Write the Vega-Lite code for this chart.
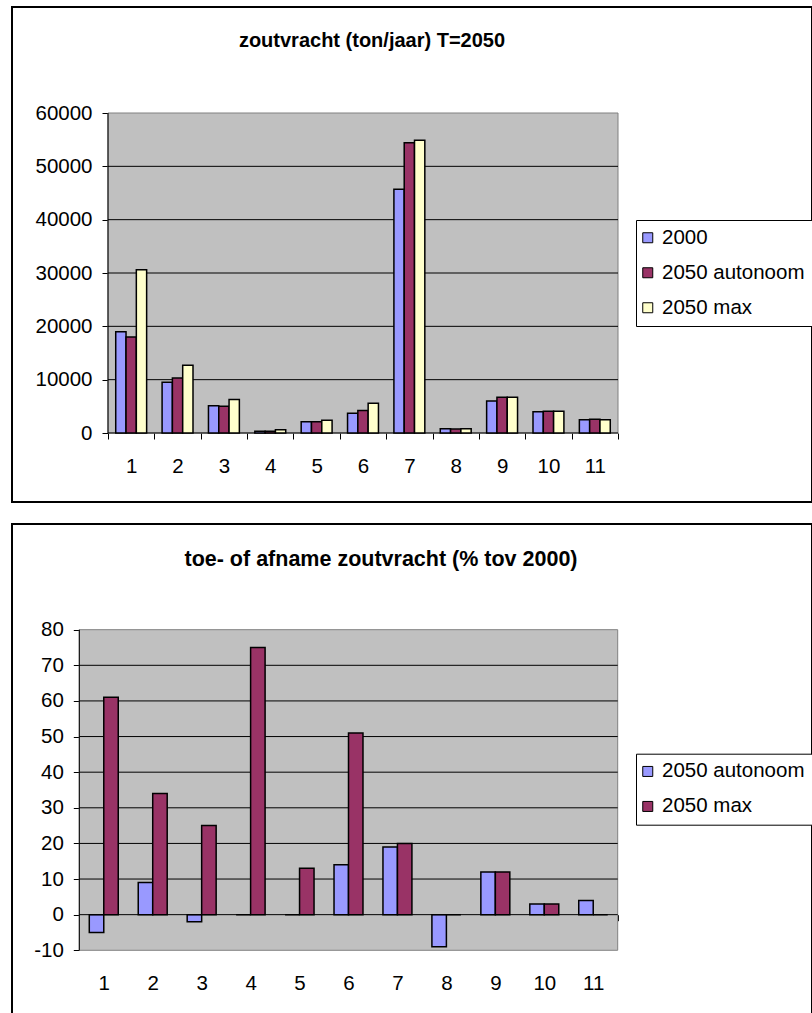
{
  "$schema": "https://vega.github.io/schema/vega-lite/v6.json",
  "background": "white",
  "padding": {"left": 11, "top": 6, "right": 0, "bottom": 0},
  "config": {
    "font": "Liberation Sans",
    "locale": {"number": {"decimal": ".", "thousands": ",", "grouping": [3], "currency": ["", ""], "minus": "-"}},
    "view": {"stroke": "black", "strokeWidth": 2, "fill": "white"},
    "concat": {"spacing": 20},
    "axis": {
      "labelFont": "Liberation Sans",
      "labelFontSize": 20.5,
      "labelColor": "black",
      "tickColor": "black",
      "tickWidth": 1,
      "domain": false,
      "grid": false
    },
    "legend": {
      "orient": "none",
      "legendX": 624,
      "fillColor": "white",
      "strokeColor": "black",
      "strokeWidth": 1,
      "padding": 7.5,
      "symbolType": "square",
      "symbolSize": 100,
      "symbolOffset": -6,
      "symbolStrokeColor": "black",
      "symbolStrokeWidth": 1,
      "labelFont": "Liberation Sans",
      "labelFontSize": 20.5,
      "labelColor": "black",
      "rowPadding": 14,
      "labelOffset": 4
    }
  },
  "datasets": {
    "vracht": [
      {"punt": 1, "reeks": "2000", "vracht": 19000},
      {"punt": 1, "reeks": "2050 autonoom", "vracht": 18000},
      {"punt": 1, "reeks": "2050 max", "vracht": 30600},
      {"punt": 2, "reeks": "2000", "vracht": 9500},
      {"punt": 2, "reeks": "2050 autonoom", "vracht": 10300},
      {"punt": 2, "reeks": "2050 max", "vracht": 12700},
      {"punt": 3, "reeks": "2000", "vracht": 5100},
      {"punt": 3, "reeks": "2050 autonoom", "vracht": 5000},
      {"punt": 3, "reeks": "2050 max", "vracht": 6300},
      {"punt": 4, "reeks": "2000", "vracht": 350},
      {"punt": 4, "reeks": "2050 autonoom", "vracht": 350},
      {"punt": 4, "reeks": "2050 max", "vracht": 600},
      {"punt": 5, "reeks": "2000", "vracht": 2100},
      {"punt": 5, "reeks": "2050 autonoom", "vracht": 2100},
      {"punt": 5, "reeks": "2050 max", "vracht": 2400},
      {"punt": 6, "reeks": "2000", "vracht": 3700},
      {"punt": 6, "reeks": "2050 autonoom", "vracht": 4200},
      {"punt": 6, "reeks": "2050 max", "vracht": 5600},
      {"punt": 7, "reeks": "2000", "vracht": 45700},
      {"punt": 7, "reeks": "2050 autonoom", "vracht": 54400},
      {"punt": 7, "reeks": "2050 max", "vracht": 54900},
      {"punt": 8, "reeks": "2000", "vracht": 800},
      {"punt": 8, "reeks": "2050 autonoom", "vracht": 730},
      {"punt": 8, "reeks": "2050 max", "vracht": 800},
      {"punt": 9, "reeks": "2000", "vracht": 6000},
      {"punt": 9, "reeks": "2050 autonoom", "vracht": 6700},
      {"punt": 9, "reeks": "2050 max", "vracht": 6700},
      {"punt": 10, "reeks": "2000", "vracht": 4000},
      {"punt": 10, "reeks": "2050 autonoom", "vracht": 4100},
      {"punt": 10, "reeks": "2050 max", "vracht": 4100},
      {"punt": 11, "reeks": "2000", "vracht": 2500},
      {"punt": 11, "reeks": "2050 autonoom", "vracht": 2600},
      {"punt": 11, "reeks": "2050 max", "vracht": 2500}
    ],
    "procent": [
      {"punt": 1, "reeks": "2050 autonoom", "procent": -5},
      {"punt": 1, "reeks": "2050 max", "procent": 61},
      {"punt": 2, "reeks": "2050 autonoom", "procent": 9},
      {"punt": 2, "reeks": "2050 max", "procent": 34},
      {"punt": 3, "reeks": "2050 autonoom", "procent": -2},
      {"punt": 3, "reeks": "2050 max", "procent": 25},
      {"punt": 4, "reeks": "2050 autonoom", "procent": 0},
      {"punt": 4, "reeks": "2050 max", "procent": 75},
      {"punt": 5, "reeks": "2050 autonoom", "procent": 0},
      {"punt": 5, "reeks": "2050 max", "procent": 13},
      {"punt": 6, "reeks": "2050 autonoom", "procent": 14},
      {"punt": 6, "reeks": "2050 max", "procent": 51},
      {"punt": 7, "reeks": "2050 autonoom", "procent": 19},
      {"punt": 7, "reeks": "2050 max", "procent": 20},
      {"punt": 8, "reeks": "2050 autonoom", "procent": -9},
      {"punt": 8, "reeks": "2050 max", "procent": 0},
      {"punt": 9, "reeks": "2050 autonoom", "procent": 12},
      {"punt": 9, "reeks": "2050 max", "procent": 12},
      {"punt": 10, "reeks": "2050 autonoom", "procent": 3},
      {"punt": 10, "reeks": "2050 max", "procent": 3},
      {"punt": 11, "reeks": "2050 autonoom", "procent": 4},
      {"punt": 11, "reeks": "2050 max", "procent": 0}
    ],
    "raster_vracht": [
      {"waarde": 10000}, {"waarde": 20000}, {"waarde": 30000},
      {"waarde": 40000}, {"waarde": 50000}
    ],
    "raster_procent": [
      {"waarde": 10}, {"waarde": 20}, {"waarde": 30}, {"waarde": 40},
      {"waarde": 50}, {"waarde": 60}, {"waarde": 70}
    ],
    "vlak": [{"gebied": "tekengebied"}]
  },
  "resolve": {
    "scale": {"color": "independent", "xOffset": "independent"},
    "legend": {"color": "independent"}
  },
  "vconcat": [
    {
      "width": 800,
      "height": 495,
      "title": {
        "text": "zoutvracht (ton/jaar) T=2050",
        "anchor": "middle",
        "frame": "group",
        "baseline": "middle",
        "offset": -54,
        "dx": -40,
        "font": "Liberation Sans",
        "fontSize": 20,
        "fontWeight": "bold",
        "color": "black"
      },
      "resolve": {"scale": {"x": "independent"}, "axis": {"x": "independent"}},
      "layer": [
        {
          "layer": [
            {
              "data": {"name": "vlak"},
              "mark": {"type": "rect", "fill": "#C0C0C0", "stroke": "#808080", "strokeWidth": 1},
              "encoding": {
                "x": {"datum": 0.5, "type": "quantitative", "scale": {"domain": [-1.5706, 15.6843], "nice": false, "zero": false}, "axis": null},
                "x2": {"datum": 11.5},
                "y": {"datum": 0, "type": "quantitative", "scale": {"domain": [-12937.5, 79875], "nice": false, "zero": false},
                      "axis": {"values": [0, 10000, 20000, 30000, 40000, 50000, 60000], "format": "d", "offset": -96, "tickSize": 6, "labelPadding": 10, "title": null}},
                "y2": {"datum": 60000}
              }
            },
            {
              "data": {"name": "raster_vracht"},
              "mark": {"type": "rule", "color": "black", "strokeWidth": 1},
              "encoding": {
                "x": {"datum": 0.5, "type": "quantitative", "scale": {"domain": [-1.5706, 15.6843], "nice": false, "zero": false}, "axis": null},
                "x2": {"datum": 11.5},
                "y": {"field": "waarde", "type": "quantitative", "scale": {"domain": [-12937.5, 79875], "nice": false, "zero": false},
                      "axis": {"values": [0, 10000, 20000, 30000, 40000, 50000, 60000], "format": "d", "offset": -96, "tickSize": 6, "labelPadding": 10, "title": null}}
              }
            },
            {
              "data": {"name": "vlak"},
              "mark": {"type": "rule", "color": "black", "strokeWidth": 1},
              "encoding": {
                "x": {"datum": 0.5, "type": "quantitative", "scale": {"domain": [-1.5706, 15.6843], "nice": false, "zero": false}, "axis": null},
                "x2": {"datum": 11.5},
                "y": {"datum": 0, "type": "quantitative", "scale": {"domain": [-12937.5, 79875], "nice": false, "zero": false},
                      "axis": {"values": [0, 10000, 20000, 30000, 40000, 50000, 60000], "format": "d", "offset": -96, "tickSize": 6, "labelPadding": 10, "title": null}}
              }
            },
            {
              "data": {"name": "vlak"},
              "mark": {"type": "rule", "color": "black", "strokeWidth": 1},
              "encoding": {
                "x": {"datum": 0.5, "type": "quantitative", "scale": {"domain": [-1.5706, 15.6843], "nice": false, "zero": false}, "axis": null},
                "y": {"datum": 0, "type": "quantitative", "scale": {"domain": [-12937.5, 79875], "nice": false, "zero": false},
                      "axis": {"values": [0, 10000, 20000, 30000, 40000, 50000, 60000], "format": "d", "offset": -96, "tickSize": 6, "labelPadding": 10, "title": null}},
                "y2": {"datum": 60000}
              }
            }
          ]
        },
        {
          "data": {"name": "vracht"},
          "mark": {"type": "bar", "stroke": "black", "strokeWidth": 1.5},
          "encoding": {
            "x": {"field": "punt", "type": "ordinal",
                  "scale": {"range": [96, 606], "paddingInner": 0, "paddingOuter": 0},
                  "axis": {"orient": "bottom", "offset": -69, "tickBand": "extent", "tickSize": 6, "labelPadding": 27, "labelBaseline": "middle", "labelAngle": 0, "title": null}},
            "xOffset": {"field": "reeks", "type": "nominal", "scale": {"paddingOuter": 0.75, "paddingInner": 0}},
            "y": {"field": "vracht", "type": "quantitative", "scale": {"domain": [-12937.5, 79875], "nice": false, "zero": false},
                  "axis": {"values": [0, 10000, 20000, 30000, 40000, 50000, 60000], "format": "d", "offset": -96, "tickSize": 6, "labelPadding": 10, "title": null}},
            "color": {"field": "reeks", "type": "nominal",
                      "scale": {"domain": ["2000", "2050 autonoom", "2050 max"], "range": ["#9999FF", "#993366", "#FFFFCC"]},
                      "legend": {"title": null, "legendY": 213}}
          }
        }
      ]
    },
    {
      "width": 800,
      "height": 496,
      "title": {
        "text": "toe- of afname zoutvracht (% tov 2000)",
        "anchor": "middle",
        "frame": "group",
        "baseline": "middle",
        "offset": -57,
        "dx": -31,
        "font": "Liberation Sans",
        "fontSize": 21.5,
        "fontWeight": "bold",
        "color": "black"
      },
      "resolve": {"scale": {"x": "independent"}, "axis": {"x": "independent"}},
      "layer": [
        {
          "layer": [
            {
              "data": {"name": "vlak"},
              "mark": {"type": "rect", "fill": "#C0C0C0", "stroke": "#808080", "strokeWidth": 1},
              "encoding": {
                "x": {"datum": 0.5, "type": "quantitative", "scale": {"domain": [-0.875, 15.47], "nice": false, "zero": false}, "axis": null},
                "x2": {"datum": 11.5},
                "y": {"datum": -10, "type": "quantitative", "scale": {"domain": [-29.57, 109.67], "nice": false, "zero": false},
                      "axis": {"values": [-10, 0, 10, 20, 30, 40, 50, 60, 70, 80], "format": "d", "offset": -67.3, "tickSize": 6, "labelPadding": 10, "title": null}},
                "y2": {"datum": 80}
              }
            },
            {
              "data": {"name": "raster_procent"},
              "mark": {"type": "rule", "color": "black", "strokeWidth": 1},
              "encoding": {
                "x": {"datum": 0.5, "type": "quantitative", "scale": {"domain": [-0.875, 15.47], "nice": false, "zero": false}, "axis": null},
                "x2": {"datum": 11.5},
                "y": {"field": "waarde", "type": "quantitative", "scale": {"domain": [-29.57, 109.67], "nice": false, "zero": false},
                      "axis": {"values": [-10, 0, 10, 20, 30, 40, 50, 60, 70, 80], "format": "d", "offset": -67.3, "tickSize": 6, "labelPadding": 10, "title": null}}
              }
            },
            {
              "data": {"name": "vlak"},
              "mark": {"type": "rule", "color": "black", "strokeWidth": 1},
              "encoding": {
                "x": {"datum": 0.5, "type": "quantitative", "scale": {"domain": [-0.875, 15.47], "nice": false, "zero": false}, "axis": null},
                "y": {"datum": -10, "type": "quantitative", "scale": {"domain": [-29.57, 109.67], "nice": false, "zero": false},
                      "axis": {"values": [-10, 0, 10, 20, 30, 40, 50, 60, 70, 80], "format": "d", "offset": -67.3, "tickSize": 6, "labelPadding": 10, "title": null}},
                "y2": {"datum": 80}
              }
            }
          ]
        },
        {
          "data": {"name": "procent"},
          "mark": {"type": "bar", "stroke": "black", "strokeWidth": 1.5},
          "encoding": {
            "x": {"field": "punt", "type": "ordinal",
                  "scale": {"range": [67.3, 605.7], "paddingInner": 0, "paddingOuter": 0},
                  "axis": {"orient": "bottom", "offset": -105.3, "tickBand": "extent", "tickSize": 6, "labelPadding": 62.3, "labelBaseline": "middle", "labelAngle": 0, "title": null}},
            "xOffset": {"field": "reeks", "type": "nominal", "scale": {"paddingOuter": 0.69, "paddingInner": 0}},
            "y": {"field": "procent", "type": "quantitative", "scale": {"domain": [-29.57, 109.67], "nice": false, "zero": false},
                  "axis": {"values": [-10, 0, 10, 20, 30, 40, 50, 60, 70, 80], "format": "d", "offset": -67.3, "tickSize": 6, "labelPadding": 10, "title": null}},
            "color": {"field": "reeks", "type": "nominal",
                      "scale": {"domain": ["2050 autonoom", "2050 max"], "range": ["#9999FF", "#993366"]},
                      "legend": {"title": null, "legendY": 229.7}}
          }
        },
        {
          "data": {"name": "vlak"},
          "mark": {"type": "rule", "color": "black", "strokeWidth": 1},
          "encoding": {
            "x": {"datum": 0.5, "type": "quantitative", "scale": {"domain": [-0.875, 15.47], "nice": false, "zero": false}, "axis": null},
            "x2": {"datum": 11.5},
            "y": {"datum": 0, "type": "quantitative", "scale": {"domain": [-29.57, 109.67], "nice": false, "zero": false},
                  "axis": {"values": [-10, 0, 10, 20, 30, 40, 50, 60, 70, 80], "format": "d", "offset": -67.3, "tickSize": 6, "labelPadding": 10, "title": null}}
          }
        }
      ]
    }
  ]
}
